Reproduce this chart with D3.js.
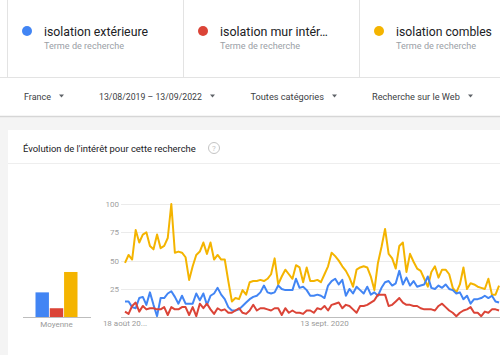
<!DOCTYPE html>
<html><head><meta charset="utf-8">
<script src="https://cdn.jsdelivr.net/npm/d3@7"></script>
<style>
html,body{margin:0;padding:0;background:#fff;}
svg{display:block;font-family:Roboto,"Noto Sans",Arial,sans-serif;}
</style></head>
<body><svg id="c" width="500" height="355"></svg>
<script>
const terms = ["isolation extérieure", "isolation mur intér…", "isolation combles"];
const termSub = "Terme de recherche";
const colors = ["#4285f4", "#db4437", "#f4b400"];
const filters = ["France", "13/08/2019 – 13/09/2022", "Toutes catégories", "Recherche sur le Web"];
const chartTitle = "Évolution de l'intérêt pour cette recherche";
const startDate = new Date(2019, 7, 18);
const endDate = new Date(2022, 8, 11);
const yTicks = [25, 50, 75, 100];
const xTickDates = [new Date(2019, 7, 18), new Date(2020, 8, 13)];
const xTickLabels = ["18 août 20...", "13 sept. 2020"];
const averages = [22, 8, 40];
const avgLabel = "Moyenne";

const exterieure = [14,14,9,8,17,18,11,22,11,1,17,17,21,23,18,12,19,12,12,12,21,15,21,11,19,21,26,20,16,9,6,6,7,
  10,13,16,18,19,22,28,22,21,22,28,25,24,24,24,34,26,27,24,19,19,20,19,17,28,32,34,29,33,19,25,21,27,
  24,21,27,20,22,19,26,31,32,28,30,41,29,35,28,32,27,28,29,36,26,25,28,26,29,
  25,24,21,22,16,19,12,16,16,17,19,17,19,14,13];
const murInterieur = [5,3,10,13,5,10,7,8,8,7,7,9,2,9,7,7,9,9,2,9,1,12,8,12,7,3,8,6,7,4,4,6,8,4,3,6,
  11,6,8,8,7,6,8,8,2,8,4,6,4,4,3,6,6,4,
  8,7,10,6,11,12,13,8,11,10,7,4,10,10,11,13,
  15,20,20,20,10,11,14,17,13,11,11,10,10,8,7,7,7,6,10,12,9,6,4,1,4,6,7,9,4,4,1,5,4,7,7,6];
const combles = [48,55,51,77,66,73,75,63,60,73,61,63,70,100,57,58,57,
  53,33,45,55,58,66,56,66,51,55,51,51,32,14,17,16,24,20,31,
  32,32,33,32,34,38,52,29,36,42,38,34,46,44,31,44,32,32,33,31,
  38,45,57,54,50,45,41,35,27,42,44,45,44,36,24,48,62,
  78,56,52,43,63,66,40,56,49,43,41,34,27,
  40,45,35,42,42,38,26,22,29,44,25,30,29,27,26,25,34,20,20,28];
const seriesList = [exterieure, murInterieur, combles];

const svg = d3.select("#c");
const W = 500, H = 355;

function fit(sel, target){
  const fs = +sel.attr("font-size");
  const w = sel.node().getComputedTextLength();
  if (w > 0) sel.attr("font-size", (fs*target/w).toFixed(2));
  return sel;
}

// backgrounds
svg.append("rect").attr("x",0).attr("y",0).attr("width",W).attr("height",H).attr("fill","#fff");
svg.append("rect").attr("x",0).attr("y",117).attr("width",W).attr("height",13).attr("fill","#f4f4f4");
svg.append("rect").attr("x",0).attr("y",117).attr("width",8).attr("height",H-117).attr("fill","#f4f4f4");
svg.append("line").attr("x1",0).attr("x2",W).attr("y1",116.5).attr("y2",116.5).attr("stroke","#d6d6d6").attr("stroke-width",1.5);

// term cards
const cardX = [8, 184, 360];
const termW = [104, 108, 96];
terms.forEach((t,i)=>{
  svg.append("line").attr("x1",cardX[i]-0.5).attr("x2",cardX[i]-0.5).attr("y1",0).attr("y2",77).attr("stroke","#e3e3e3");
  svg.append("circle").attr("cx",cardX[i]+19).attr("cy",31).attr("r",5).attr("fill",colors[i]);
  fit(svg.append("text").attr("x",cardX[i]+36).attr("y",35.5).attr("font-size",13).attr("fill","#202124").text(t), termW[i]);
  fit(svg.append("text").attr("x",cardX[i]+36).attr("y",48.5).attr("font-size",9.5).attr("fill","#9aa0a6").text(termSub), 80);
});
svg.append("line").attr("x1",0).attr("x2",W).attr("y1",77.5).attr("y2",77.5).attr("stroke","#e3e3e3");

// filters
const filterX = [24, 99, 250.5, 372];
const filterW = [27, 103, 73.5, 88];
filters.forEach((f,i)=>{
  const t = svg.append("text").attr("x",filterX[i]).attr("y",100).attr("font-size",10).attr("fill","#3c4043").text(f);
  fit(t, filterW[i]);
  const w = filterW[i];
  svg.append("path").attr("d",`M${filterX[i]+w+8},94.5 l5,0 l-2.5,3 z`).attr("fill","#5f6368");
});

// chart card header
fit(svg.append("text").attr("x",23).attr("y",151.5).attr("font-size",10.5).attr("fill","#202124").text(chartTitle), 173);
svg.append("circle").attr("cx",214).attr("cy",148).attr("r",5.5).attr("fill","none").attr("stroke","#c4c4c4").attr("stroke-width",1);
svg.append("text").attr("x",214).attr("y",151).attr("text-anchor","middle").attr("font-size",8).attr("fill","#c4c4c4").text("?");
svg.append("line").attr("x1",8).attr("x2",W).attr("y1",163.5).attr("y2",163.5).attr("stroke","#eeeeee");

// scales
const nWeeks = d3.timeWeek.count(startDate, endDate);
const step = 3.5625;
const x = d3.scaleTime().domain([startDate, endDate]).range([125, 125 + step*nWeeks]);
const y = d3.scaleLinear().domain([0,100]).range([317.3, 204]);
const dates = combles.map((_,i)=>d3.timeWeek.offset(startDate, i));

// grid
const g = svg.append("g");
g.selectAll("line.grid").data(yTicks).join("line")
  .attr("x1",121).attr("x2",W).attr("y1",d=>Math.round(y(d))+0.5).attr("y2",d=>Math.round(y(d))+0.5)
  .attr("stroke","#ebebeb");
g.selectAll("text.yl").data(yTicks).join("text")
  .attr("x",119).attr("y",d=>y(d)+3).attr("text-anchor","end").attr("font-size",8).attr("fill","#a0a0a0").text(d=>d);
g.append("line").attr("x1",121).attr("x2",W).attr("y1",317.5).attr("y2",317.5).attr("stroke","#bdbdbd");

// x labels
g.selectAll("text.xl").data(xTickDates).join("text")
  .attr("x",d=>x(d)).attr("y",326).attr("text-anchor","middle").attr("font-size",8).attr("fill","#9a9a9a")
  .text((d,i)=>xTickLabels[i]);

// lines
const line = d3.line().x((d,i)=>x(dates[i])).y(d=>y(d));
[2,0,1].forEach(si=>{
  g.append("path").datum(seriesList[si]).attr("d",line).attr("fill","none")
   .attr("stroke",colors[si]).attr("stroke-width",2).attr("stroke-linejoin","round");
});

// average bars
const xb = d3.scaleBand().domain([0,1,2]).range([35.5, 77.5]).paddingInner(0.06);
svg.selectAll("rect.avg").data(averages).join("rect")
  .attr("x",(d,i)=>xb(i)).attr("width",xb.bandwidth()).attr("y",d=>y(d)).attr("height",d=>y(0)-y(d))
  .attr("fill",(d,i)=>colors[i]);
svg.append("line").attr("x1",23).attr("x2",91).attr("y1",317.5).attr("y2",317.5).attr("stroke","#bdbdbd");
svg.append("text").attr("x",56.5).attr("y",327).attr("text-anchor","middle").attr("font-size",8).attr("fill","#9a9a9a").text(avgLabel);
</script></body></html>
